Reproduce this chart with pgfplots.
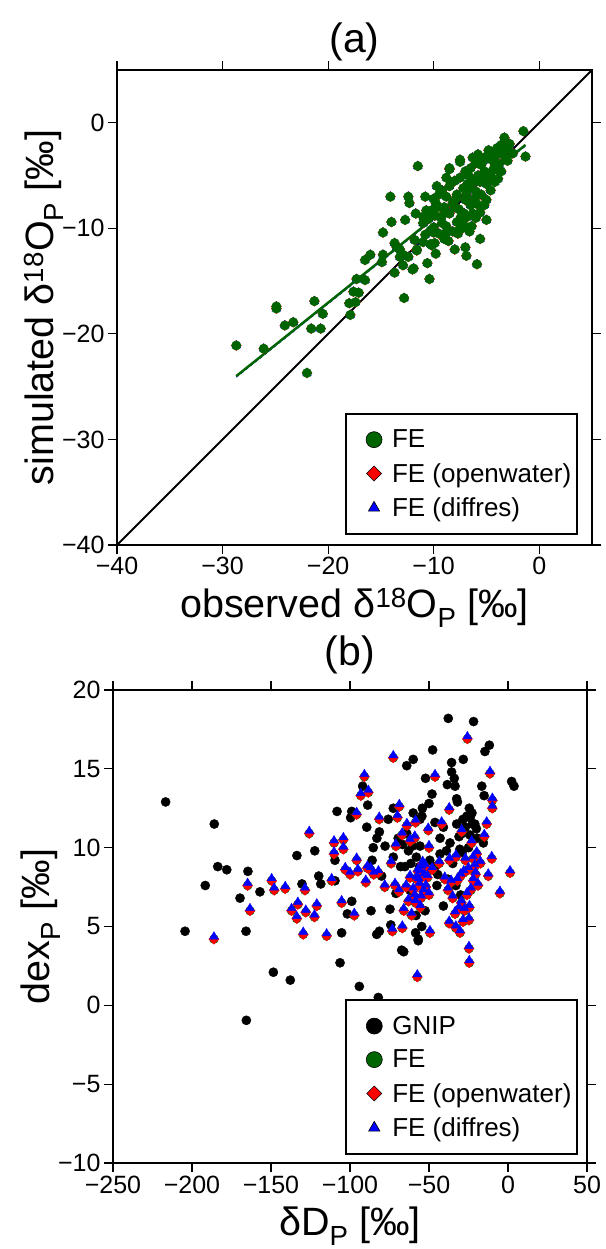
\documentclass[border=0pt]{standalone}
\usepackage{fontspec}
\setmainfont{Liberation Sans}
\usepackage{pgfplots}
\usepackage{pgfplotstable}
\pgfplotsset{compat=1.18}
\definecolor{fegreen}{RGB}{0,100,0}

% panel (a): observed vs simulated d18O
\pgfplotstableread{
x y
-28.7 -21.1
-26.1 -21.4
-24.9 -17.4
-24.9 -17.6
-24.1 -19.2
-23.3 -18.9
-22.0 -23.7
-21.3 -16.9
-20.5 -18.1
-21.6 -19.5
-20.7 -19.5
-17.9 -18.2
-18.0 -17.1
-17.4 -17.0
-17.6 -16.0
-17.1 -16.1
-17.3 -14.8
-16.5 -14.9
-16.5 -13.0
-16.0 -12.5
-14.8 -12.5
-14.9 -13.2
-13.7 -14.2
-12.8 -16.6
-12.0 -13.9
-12.9 -13.5
-10.6 -13.3
-10.4 -14.8
-12.4 -12.7
-13.2 -12.7
-13.5 -11.8
-11.6 -12.0
-10.3 -11.5
-11.0 -11.3
-14.8 -10.4
-14.0 -9.4
-12.7 -9.2
-11.7 -8.6
-14.1 -7.0
-12.4 -7.0
-12.3 -7.6
-10.8 -7.0
-11.5 -4.1
-6.9 -12.6
-5.9 -13.4
-5.6 -11.0
-6.2 -8.7
-5.0 -7.3
-5.9 -7.7
-3.9 -5.3
-3.3 -1.4
-1.5 -0.8
-1.3 -3.2
-9.7 -6.0
-8.5 -4.4
-7.5 -3.7
-6.7 -5.0
-11.0 -8.9
-10.0 -10.4
-8.9 -10.5
-7.5 -10.0
-7.4 -8.9
-6.3 -8.6
-9.6 -8.0
-10.7 -8.3
-9.9 -11.4
-10.2 -11.6
-11.8 -11.1
-11.6 -12.1
-11.9 -13.8
-12.9 -12.5
-13.7 -11.4
-13.2 -12.0
-7.7 -10.5
-6.6 -10.3
-5.0 -9.2
-3.0 -2.5
-3.5 -2.8
-4.0 -3.0
-3.2 -3.4
-4.5 -3.5
-5.0 -3.2
-4.2 -4.0
-5.5 -4.0
-6.0 -3.8
-3.8 -3.9
-5.2 -4.6
-6.5 -4.3
-7.0 -4.6
-5.8 -5.0
-4.6 -5.0
-6.2 -5.5
-7.5 -5.2
-8.0 -5.5
-6.8 -5.8
-5.0 -5.8
-7.2 -6.2
-8.5 -6.0
-6.0 -6.5
-7.8 -6.8
-8.8 -7.0
-9.5 -6.8
-5.5 -6.8
-7.0 -7.3
-8.2 -7.6
-9.0 -8.0
-6.5 -7.8
-7.6 -8.2
-9.8 -7.6
-10.2 -8.3
-8.5 -8.6
-6.8 -8.9
-9.3 -9.0
-10.5 -9.1
-7.8 -9.4
-8.8 -9.8
-10.0 -9.9
-11.0 -9.5
-7.3 -10.0
-9.5 -10.5
-8.2 -10.3
-6.4 -9.8
-10.8 -10.6
-9.0 -11.0
-4.8 -2.6
-5.8 -3.0
-6.3 -3.3
-4.0 -2.4
-3.6 -2.1
-2.8 -2.0
-2.5 -2.9
-3.0 -3.6
-4.4 -4.5
-5.6 -5.6
-6.9 -6.8
-8.0 -8.0
-9.2 -9.5
-10.3 -10.2
-5.2 -7.8
-4.6 -6.4
-4.2 -5.6
-3.6 -4.6
-8.8 -5.2
-9.2 -6.4
-10.0 -7.2
-6.0 -9.0
-5.6 -8.5
-7.2 -9.6
-8.6 -11.2
-9.8 -12.4
-8.0 -12.0
-7.0 -11.8
-3.4 -2.4
-7.5 -3.5
-8.5 -4.3
-4.3 -3.2
-5.3 -3.6
-6.6 -6.2
-7.9 -7.2
-8.9 -8.5
-9.9 -8.8
-7.1 -8.6
-6.1 -7.2
-5.1 -5.2
-4.0 -4.4
}\feA

% panel (b): GNIP observations
\pgfplotstableread{
x y
-216.7 12.9
-185.9 11.5
-183.7 8.8
-178.0 8.6
-164.6 8.5
-191.6 7.6
-169.6 6.8
-157.0 7.2
-204.4 4.7
-165.8 4.7
-130.4 7.7
-118.5 7.7
-119.8 8.2
-133.6 9.5
-122.3 9.8
-109.5 9.2
-109.5 7.9
-108.2 12.3
-98.9 12.3
-99.6 11.9
-88.8 12.7
-92.0 13.9
-89.4 11.3
-98.9 6.6
-101.7 5.8
-105.3 4.6
-86.7 6.0
-83.1 4.5
-81.4 4.7
-74.7 6.1
-74.2 5.1
-70.9 7.1
-67.3 3.5
-66.0 3.4
-58.2 5.7
-56.8 4.2
-54.6 5.0
-40.9 6.3
-37.8 18.2
-21.8 18.0
-47.7 16.2
-60.0 15.6
-64.1 15.2
-35.7 15.4
-28.3 15.6
-14.6 16.1
-11.8 16.5
-35.7 14.8
-34.0 14.4
-52.2 14.4
-38.4 14.0
-33.5 13.9
-48.1 13.4
-32.5 13.1
-32.0 12.9
-16.6 13.9
-15.1 13.3
2.3 14.2
3.8 13.9
-72.6 12.5
-54.2 12.5
-54.5 12.0
-24.5 12.5
-24.0 11.9
-22.5 11.5
-20.0 11.2
-81.4 11.0
-83.0 10.6
-75.8 11.8
-77.8 10.1
-85.3 10.0
-64.1 10.9
-66.7 10.2
-55.7 11.8
-46.2 11.6
-43.0 10.6
-40.9 11.3
-32.5 11.5
-29.0 10.9
-27.0 11.3
-24.0 10.8
-21.0 11.5
-19.5 10.6
-15.6 10.3
-36.7 10.3
-31.0 10.7
-55.7 10.1
-60.5 10.1
-63.0 9.8
-72.6 9.4
-65.2 8.8
-56.0 8.8
-43.0 9.6
-46.2 8.8
-35.0 9.0
-29.0 9.7
-25.0 10.0
-58.0 9.4
-68.0 8.8
-38.0 8.0
-33.0 7.6
-30.0 7.0
-52.5 6.0
-57.0 6.7
-148.5 2.1
-137.8 1.6
-106.3 2.7
-94.1 1.2
-82.1 0.5
-165.6 -0.95
-56.8 4.1
-86.0 9.2
-80.0 8.2
-62.0 7.3
-45.0 7.6
-50.0 12.8
-60.0 12.2
-26.0 12.0
-28.5 11.8
-22.8 12.2
-30.5 9.9
-39.0 9.8
-44.5 8.3
-49.5 9.2
-61.5 9.0
-69.5 10.6
-58.5 4.6
}\gnip

% panel (b): FE simulations
\pgfplotstableread{
x y
-25.7 16.9
-72.6 15.7
-46.2 14.5
-90.9 14.5
-88.4 13.5
-93.2 13.3
-11.4 14.7
-9.9 13.0
-9.9 12.5
-68.8 12.6
-37.2 12.4
-95.8 12.1
-81.5 11.8
-70.0 11.9
-64.0 11.4
-58.5 11.6
-67.0 10.8
-42.0 11.5
-13.5 11.5
-29.3 11.0
-15.0 10.7
-125.8 10.9
-50.5 11.1
-104.2 10.5
-110.1 10.3
-104.2 9.9
-110.1 9.6
-23.0 10.3
-19.8 9.6
-10.3 9.3
-71.0 10.1
-62.0 10.4
-59.0 10.6
-50.0 10.0
-43.5 9.0
-33.0 9.4
-37.0 9.2
-95.8 9.2
-103.0 8.6
-100.0 8.3
-111.6 7.9
1.3 8.4
-12.5 8.2
-5.1 7.1
-149.6 7.9
-141.0 7.4
-148.0 7.3
-164.8 7.6
-128.5 7.3
-137.0 6.0
-133.0 6.4
-128.0 5.9
-122.5 5.6
-121.0 6.3
-163.3 6.0
-133.7 5.5
-105.3 6.5
-97.3 5.7
-129.6 4.5
-114.8 4.4
-186.1 4.2
-73.2 4.7
-66.9 4.9
-49.4 4.6
-37.2 5.2
-30.4 4.6
-31.0 6.1
-24.4 6.2
-24.7 5.4
-24.7 3.6
-24.5 2.7
-57.4 1.8
-55.7 8.4
-58.0 8.0
-53.0 8.2
-56.0 7.6
-52.0 7.5
-60.0 7.3
-55.0 6.8
-58.5 6.5
-50.0 7.0
-62.0 8.1
-64.5 7.5
-48.0 8.6
-54.0 9.0
-87.0 8.6
-85.0 8.3
-89.0 8.7
-95.0 8.5
-90.0 7.8
-78.0 7.5
-71.5 7.6
-69.0 7.2
-74.0 9.0
-82.0 8.4
-40.0 8.0
-38.0 7.3
-35.0 6.8
-32.0 7.9
-28.0 8.4
-25.0 8.6
-22.0 7.9
-20.5 8.3
-19.0 7.6
-26.0 7.0
-29.5 6.5
-33.5 5.8
-27.0 9.2
-22.0 9.3
-66.0 6.0
-61.0 5.7
-54.5 8.7
-57.0 8.5
-52.5 8.8
-56.5 7.9
-53.5 7.2
-59.0 6.9
-51.0 8.1
-55.5 6.2
-63.0 6.6
-36.0 7.8
-30.0 8.2
-23.5 7.3
-27.5 6.0
-21.0 8.8
-17.5 9.0
-33.0 4.9
-28.5 5.3
}\feB

\pgfplotsset{
  panel/.style={
    scale only axis,
    axis line style={line width=2pt},
    tick align=outside,
    major tick length=9pt,
    every tick/.style={black, line width=1.2pt},
    tick label style={font=\fontsize{25}{30}\selectfont},
    label style={font=\fontsize{39.5}{46}\selectfont},
    title style={at={(0.5,1)}, anchor=base},
    legend cell align=left,
    legend style={draw=black, line width=2pt, anchor=south east,
      font=\fontsize{26}{30}\selectfont, row sep=10pt,
      inner xsep=4pt, inner ysep=14pt,
      /tikz/every even column/.append style={column sep=6pt}},
  },
  legmark/.style={only marks, mark size=8pt, line width=0.6pt,
    mark options={draw=black, fill=#1},
    legend image code/.code={%
      \path[draw=none, fill=none] (0pt,-1pt) rectangle (40pt,1pt);
      \draw[mark repeat=1, mark phase=1, ##1] plot coordinates {(24pt,0pt)};}},
  rotmark/.style={every mark/.append style={rotate=45}},
}

\begin{document}
\begin{tikzpicture}
\useasboundingbox (0,0) rectangle (605pt,-1249pt);

\begin{axis}[panel,
  at={(117pt,-545pt)}, anchor=south west,
  width=475pt, height=475pt,
  xmin=-40, xmax=5, ymin=-40, ymax=5,
  xtick={-40,-30,-20,-10,0},
  xticklabels={−40,−30,−20,−10,0},
  ytick={-40,-30,-20,-10,0},
  yticklabels={−40,−30,−20,−10,0},
  title={\fontsize{41}{48}\selectfont (a)},
  title style={yshift=12pt},
  xlabel={observed δ\textsuperscript{18}O\textsubscript{P} [‰]},
  ylabel={simulated δ\textsuperscript{18}O\textsubscript{P} [‰]},
  xlabel style={at={(axis description cs:0.5,-0.1516)}, anchor=base},
  ylabel style={at={(axis description cs:-0.1347,0.5)}, anchor=base},
  legend style={at={(0.971,0.021)}},
]
\addplot[black, line width=2pt, forget plot] coordinates {(-40,-40) (5,5)};
\addplot[only marks, mark=square*, mark size=3.6pt, rotmark, red, forget plot] table {\feA};
\addplot[only marks, mark=triangle*, mark size=5pt, blue, forget plot] table {\feA};
\addplot[only marks, mark=*, mark size=4.7pt, fegreen, forget plot] table {\feA};
\addplot[blue, line width=1pt, dashed, forget plot] coordinates {(-28.7,-24.1) (-1.3,-2.2)};
\addplot[fegreen, line width=2.5pt, forget plot] coordinates {(-28.7,-24.0) (-1.3,-2.1)};
\addlegendimage{legmark=fegreen, mark=*}
\addlegendimage{legmark=red, mark=square*, mark size=5.3pt, rotmark}
\addlegendimage{legmark=blue, mark=triangle*, mark size=6.5pt}
\legend{FE, FE (openwater), FE (diffres)}
\end{axis}

\begin{axis}[panel,
  at={(113pt,-1163pt)}, anchor=south west,
  width=474pt, height=473pt,
  xmin=-250, xmax=50, ymin=-10, ymax=20,
  xtick={-250,-200,-150,-100,-50,0,50},
  xticklabels={−250,−200,−150,−100,−50,0,50},
  ytick={-10,-5,0,5,10,15,20},
  yticklabels={−10,−5,0,5,10,15,20},
  title={\fontsize{41}{48}\selectfont (b)},
  title style={yshift=19pt},
  xlabel={δD\textsubscript{P} [‰]},
  ylabel={dex\textsubscript{P} [‰]},
  xlabel style={at={(axis description cs:0.5,-0.1522)}, anchor=base},
  ylabel style={at={(axis description cs:-0.133,0.5)}, anchor=base},
  legend style={at={(0.982,0.017)}},
]
\addplot[only marks, mark=*, mark size=4.6pt, black, forget plot] table {\gnip};
\addplot[only marks, mark=*, mark size=4.5pt, fegreen, forget plot] table {\feB};
\addplot[only marks, mark=square*, mark size=3.6pt, rotmark, red, forget plot] table {\feB};
\addplot[only marks, mark=triangle*, mark size=5pt, blue, mark options={yshift=2.5pt}, forget plot] table {\feB};
\addlegendimage{legmark=black, mark=*}
\addlegendimage{legmark=fegreen, mark=*}
\addlegendimage{legmark=red, mark=square*, mark size=5.3pt, rotmark}
\addlegendimage{legmark=blue, mark=triangle*, mark size=6.5pt}
\legend{GNIP, FE, FE (openwater), FE (diffres)}
\end{axis}
\end{tikzpicture}
\end{document}
